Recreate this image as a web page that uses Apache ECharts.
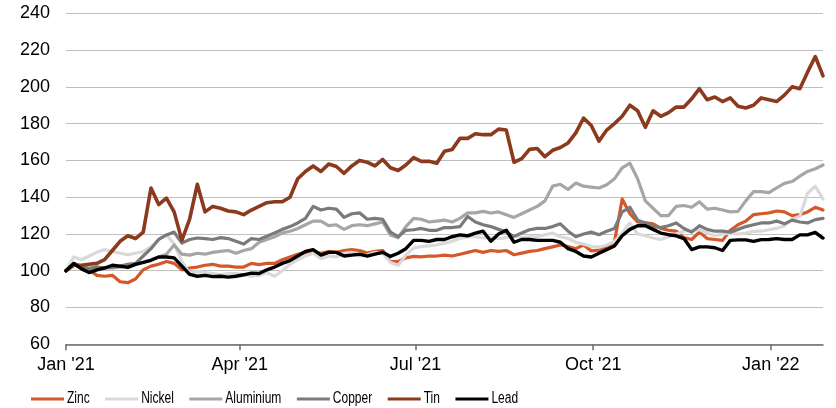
<!DOCTYPE html>
<html>
<head>
<meta charset="utf-8">
<script src="https://cdn.jsdelivr.net/npm/echarts@6/dist/echarts.min.js"></script>
<style>
  html, body { margin: 0; padding: 0; background: #ffffff; }
  #chart { width: 836px; height: 408px; }
</style>
</head>
<body>
<div id="chart"></div>
<script>
// Metal prices, rebased to 100 at the start of 2021, sampled every 4 days
const startDate = [2021, 0, 1];
const stepDays = 4;
const axisEnd = [2022, 0, 28];

const tickDates = [[2021, 0, 1], [2021, 3, 1], [2021, 6, 1], [2021, 9, 1], [2022, 0, 1]];
const tickLabels = ["Jan '21", "Apr '21", "Jul '21", "Oct '21", "Jan '22"];

const seriesNames = ['Zinc', 'Nickel', 'Aluminium', 'Copper', 'Tin', 'Lead'];

const zinc = [
  100, 104, 102.5, 100.5, 97.5, 97, 97.5, 94, 93.5, 95.5,
  100.5, 102.5, 103.5, 105, 104, 100.5, 101.5, 102, 103, 103.5,
  102.5, 102.5, 102, 102, 104, 103.3, 104, 104, 106, 107.5,
  109, 110, 110.5, 109.5, 110.5, 110, 111, 111.5, 111, 109.6,
  110.5, 111, 105, 105, 107, 107.8, 107.5, 108, 108, 108.5,
  108, 109, 110, 111, 110, 111, 110.5, 111, 108.7, 109.6,
  110.5, 111, 112, 113, 114, 113.2, 112, 114, 110.8, 111.2,
  113.2, 115.5, 139, 131, 126.5, 126, 125.5, 123, 122, 121.5,
  118, 117, 121, 117.5, 117, 116.5, 122, 125, 127, 130.5,
  131, 131.5, 132.5, 132, 130, 130.5, 132, 134.5, 133
];

const nickel = [
  100, 107.5, 106, 108, 110, 111.5, 110.5, 109.5, 108.7, 109.5,
  110.5, 113, 117, 119.5, 114.5, 105, 98.7, 99.5, 99, 98.5,
  97.8, 98.5, 98.5, 97.8, 97, 97.5, 99, 97, 100, 103.5,
  106, 108, 109.5, 106.5, 108, 107.5, 109.5, 110, 108, 108.5,
  110, 109.5, 104.5, 103, 108.5, 112.3, 113.2, 113.5, 114, 115,
  116, 117.5, 118.7, 118.5, 117.8, 118, 117.5, 118, 119, 118,
  118.5, 118.5, 119.5, 120.5, 118.5, 117.5, 115.5, 114.5, 113.2, 112.8,
  114, 116, 120.5, 126, 120, 119, 117.8, 117, 118.5, 120,
  121.5, 122, 122.3, 120.5, 119, 120, 120.5, 120, 120.5, 121.4,
  121.5, 122.3, 123, 124.5, 128, 129.6, 142, 146, 139
];

const aluminium = [
  100, 103, 102, 101.5, 102, 101.5, 101.5, 102, 102.5, 103.5,
  104.5, 106, 107.5, 109, 114, 109, 108.5, 109.5, 109, 110,
  110.5, 111, 109.5, 111, 112, 115.5, 117, 118.5, 120.5, 121.5,
  123, 125, 127, 127, 124.5, 125, 122.5, 124.5, 125, 124.5,
  125.5, 126.5, 119.5, 118, 124, 128.5, 128, 126.5, 127, 127.5,
  126.5, 128.5, 131.5, 131.5, 132.3, 131.4, 132, 130.5, 129, 131,
  133, 135, 138, 146, 147, 144.2, 147.7, 146, 145.5, 145,
  146.8, 150, 156, 158.5, 150, 138, 134, 130, 130, 135,
  135.5, 134.5, 137.5, 133.5, 134, 133, 132, 132.3, 138, 143,
  143, 142.5, 145, 147.5, 148.5, 151.4, 154, 155.5, 157.5
];

const copper = [
  100, 104, 102, 101, 102, 101.5, 102, 102.5, 103.5, 104,
  108, 112, 117, 119.5, 121, 115, 117, 117.8, 117.5, 117,
  118, 117.5, 116, 114.5, 117.5, 117, 118.7, 120.5, 122.5, 124,
  126, 128.5, 135, 133, 134, 133.5, 129, 131, 131.5, 128,
  128.5, 128, 121, 118.5, 122, 122.3, 123, 122, 122, 123.5,
  123.5, 124, 129.5, 126.5, 125, 124, 122.5, 121, 118.7, 120.5,
  122.3, 123, 123, 124, 125.5, 121.5, 118.5, 120, 121, 119.6,
  121.5, 123, 132, 134.5, 127.5, 126, 124, 123.5, 124.5, 126,
  123, 121, 124.5, 122.5, 121.5, 121.5, 121, 122.5, 124, 125,
  126, 126, 127, 125.5, 127.5, 126.5, 126, 127.8, 128.5
];

const tin = [
  100, 103, 103, 103.5, 104, 106, 111, 116, 119, 117.5,
  121, 145, 136, 139.5, 132, 116.5, 128, 147, 132, 135,
  134, 132.5, 132, 130.5, 133, 135, 137, 137.5, 137.5, 140,
  150, 154, 157, 154, 158, 156.7, 153, 157, 160, 159,
  157, 160.5, 156, 154.5, 157.5, 161.5, 159.5, 159.5, 158.5, 165,
  166, 172, 172, 174.5, 174, 174, 177, 176.5, 159, 161,
  166, 166.5, 162, 165.5, 167, 169.5, 175, 183, 179, 170.5,
  176.5, 180, 184, 190, 187, 178, 187, 184, 186, 189,
  189, 193.5, 199, 193, 194.5, 192, 194, 189.5, 188.5, 190,
  194, 193, 192, 195.5, 200, 199, 208, 216.5, 206
];

const lead = [
  100, 104, 101, 99, 100.5, 101.5, 103, 102.5, 101.8, 103.5,
  104.5, 105.7, 107.5, 107.5, 107, 102.5, 98, 97, 97.5, 96.8,
  97, 96.5, 97, 97.8, 98.7, 98.5, 100.5, 102, 104, 105.5,
  108, 110.5, 111.5, 108.5, 110, 110, 108, 108.5, 109, 108,
  109, 110, 107.8, 109.5, 112, 116.5, 116.5, 116, 117, 117,
  118.5, 119.5, 119, 120.5, 121.5, 116, 120, 122, 115.5, 117,
  117, 116.5, 116.5, 116.5, 115.5, 112, 110.5, 108, 107.5, 109.5,
  111.5, 113.5, 119, 122.5, 124.5, 124.5, 122.5, 120.5, 119.6, 119,
  117.5, 111.5, 113, 113, 112.5, 111, 116.5, 116.8, 116.8, 116,
  116.9, 117, 117.5, 117, 117, 119.5, 119.5, 120.8, 117.8
];

const seriesValues = [zinc, nickel, aluminium, copper, tin, lead];
const seriesColors = ['#D4582A', '#D9D9D9', '#A6A6A6', '#7A7A7A', '#8C3A1E', '#000000'];
const seriesWidths = [3.2, 3.2, 3.2, 3.2, 3.6, 3.4];

const dayMs = 24 * 3600 * 1000;
const toTime = d => new Date(d[0], d[1], d[2]).getTime();
const t0 = toTime(startDate);
const sampleTimes = zinc.map((_, i) => t0 + i * stepDays * dayMs);
const tickTimes = tickDates.map(toTime);
const labelForTime = v => {
  const i = tickTimes.findIndex(t => Math.abs(t - v) < dayMs / 2);
  return i >= 0 ? tickLabels[i] : '';
};

const fontMain = '"Liberation Sans", Arial, sans-serif';

// Key along the bottom: line swatch + condensed label for each metal
const keyFont = '16px "Liberation Sans", Arial, sans-serif';
const keyTextScale = 0.75;
const keyLeft = 31, keyMidY = 399, swatchW = 33, swatchGap = 3, keyGap = 15.5;
const measureCtx = document.createElement('canvas').getContext('2d');
measureCtx.font = keyFont;
const keyElements = [];
let keyX = keyLeft;
seriesNames.forEach((name, i) => {
  keyElements.push({
    type: 'rect', silent: true,
    shape: { x: keyX, y: keyMidY - 1.5, width: swatchW, height: 3 },
    style: { fill: seriesColors[i] }
  });
  const textX = keyX + swatchW + swatchGap;
  keyElements.push({
    type: 'text', silent: true,
    x: textX, y: keyMidY, scaleX: keyTextScale,
    style: { text: name, font: keyFont, fill: '#000000', align: 'left', verticalAlign: 'middle' }
  });
  keyX = textX + measureCtx.measureText(name).width * keyTextScale + keyGap;
});

const chart = echarts.init(document.getElementById('chart'), null, { renderer: 'canvas' });

chart.setOption({
  animation: false,
  backgroundColor: '#ffffff',
  grid: { left: 66, right: 13, top: 13.3, bottom: 63.7, containLabel: false },
  graphic: { elements: keyElements },
  xAxis: {
    type: 'value',
    min: t0,
    max: toTime(axisEnd),
    axisLine: { show: true, lineStyle: { color: '#6E6E6E', width: 1.5 } },
    axisTick: { show: true, customValues: tickTimes, length: 6, inside: false,
                lineStyle: { color: '#6E6E6E', width: 1.5 } },
    axisLabel: {
      customValues: tickTimes,
      formatter: labelForTime,
      margin: 12,
      fontFamily: fontMain,
      fontSize: 18,
      color: '#000000'
    },
    splitLine: { show: false }
  },
  yAxis: {
    type: 'value',
    min: 60,
    max: 240,
    interval: 20,
    axisLine: { show: false },
    axisTick: { show: false },
    axisLabel: { margin: 16, fontFamily: fontMain, fontSize: 18, color: '#000000' },
    splitLine: { show: true, lineStyle: { color: '#BFBFBF', width: 1.2 } }
  },
  series: seriesNames.map((name, i) => ({
    name: name,
    type: 'line',
    data: seriesValues[i].map((v, j) => [sampleTimes[j], v]),
    showSymbol: false,
    symbol: 'none',
    smooth: false,
    color: seriesColors[i],
    lineStyle: { color: seriesColors[i], width: seriesWidths[i], join: 'round', cap: 'round' },
    emphasis: { disabled: true },
    z: 2 + i
  }))
});
</script>
</body>
</html>
